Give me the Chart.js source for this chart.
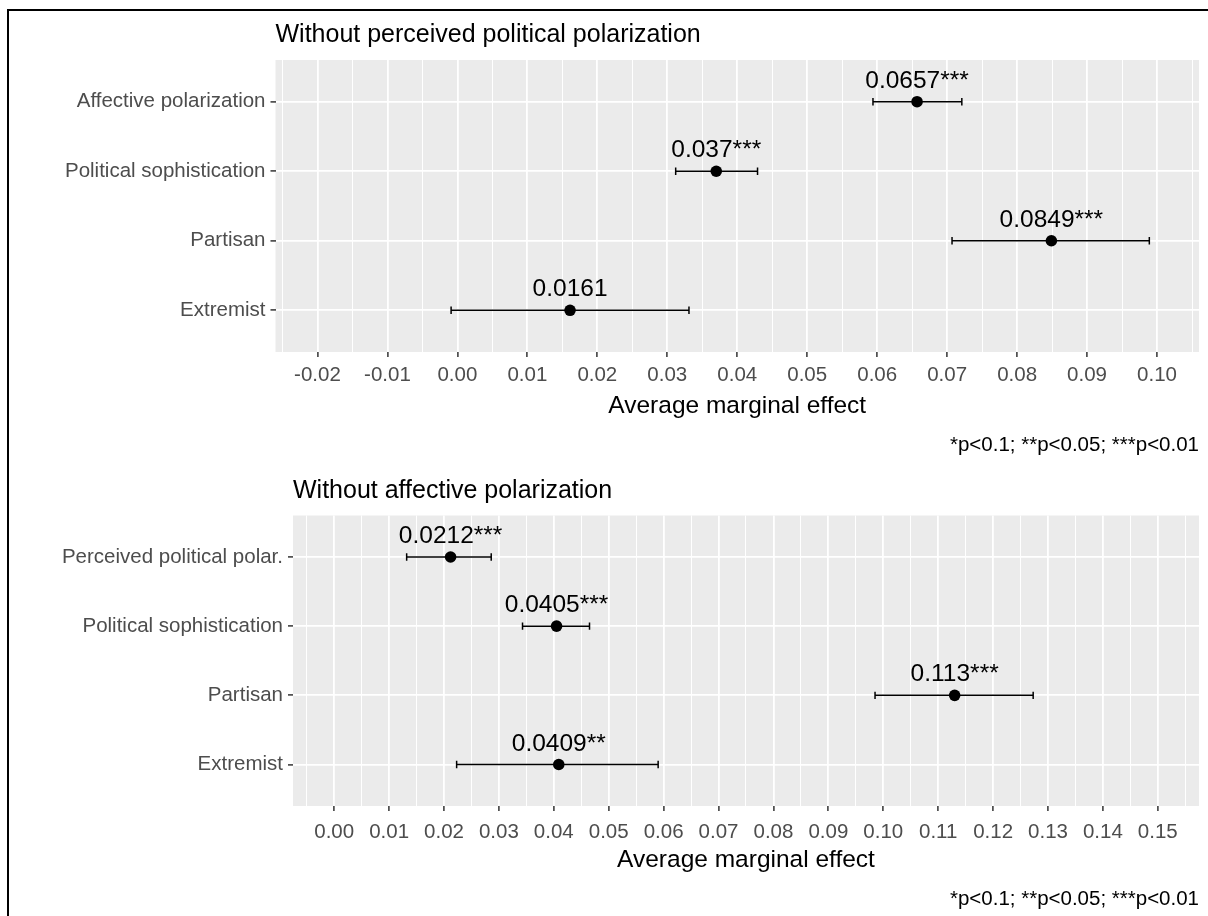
<!DOCTYPE html>
<html>
<head>
<meta charset="utf-8">
<script src="https://cdn.jsdelivr.net/npm/chart.js@4.4.1/dist/chart.umd.min.js"></script>
<style>
  html, body { margin: 0; padding: 0; background: #fff; overflow: hidden; }
  .panel { position: absolute; left: 0; width: 1208px; height: 458px; }
  #marco { position: absolute; left: 7px; top: 9px; width: 1199px; height: 905px;
           border-left: 2px solid #000; border-top: 2px solid #000; pointer-events: none; }
</style>
</head>
<body>
<div class="panel" style="top:0px"><canvas id="plot1" width="1208" height="458"></canvas></div>
<div class="panel" style="top:458px"><canvas id="plot2" width="1208" height="458"></canvas></div>
<div id="marco"></div>
<script>
// Panel superior
let categorias1 = ["Affective polarization", "Political sophistication", "Partisan", "Extremist"];
let estimados1 = [0.0657, 0.037, 0.0849, 0.0161];
let inferior1 = [0.0594, 0.0312, 0.0707, -0.0009];
let superior1 = [0.0721, 0.0429, 0.0989, 0.0331];
let estrellas1 = ["***", "***", "***", ""];
let ticks1 = [-0.02, -0.01, 0.0, 0.01, 0.02, 0.03, 0.04, 0.05, 0.06, 0.07, 0.08, 0.09, 0.10];

// Panel inferior
let categorias2 = ["Perceived political polar.", "Political sophistication", "Partisan", "Extremist"];
let estimados2 = [0.0212, 0.0405, 0.113, 0.0409];
let inferior2 = [0.0132, 0.0343, 0.0985, 0.0223];
let superior2 = [0.0286, 0.0465, 0.1273, 0.0590];
let estrellas2 = ["***", "***", "***", "**"];
let ticks2 = [0.0, 0.01, 0.02, 0.03, 0.04, 0.05, 0.06, 0.07, 0.08, 0.09, 0.10, 0.11, 0.12, 0.13, 0.14, 0.15];

let fuente = '"Liberation Sans", Arial, sans-serif';
Chart.defaults.font.family = fuente;

//Fondo gris del panel
let fondo = {
  id: "fondo",
  beforeDraw(chart) {
    let a = chart.chartArea;
    let ctx = chart.ctx;
    ctx.save();
    ctx.fillStyle = "#EBEBEB";
    ctx.fillRect(a.left, a.top, a.right - a.left, a.bottom - a.top);
    ctx.restore();
  },
};

//Etiquetas sobre los puntos, título y nota
let textos = {
  id: "textos",
  afterDatasetsDraw(chart, args, opts) {
    let ctx = chart.ctx;
    let a = chart.chartArea;
    let meta = chart.getDatasetMeta(chart.data.datasets.length - 1);
    ctx.save();
    ctx.fillStyle = "#000";
    ctx.font = "24.5px " + fuente;
    ctx.textAlign = "center";
    ctx.textBaseline = "alphabetic";
    meta.data.forEach((p, i) => ctx.fillText(opts.etiquetas[i], p.x, p.y - 14));

    ctx.font = "25px " + fuente;
    ctx.textAlign = "left";
    ctx.fillText(opts.titulo, a.left, a.top - 18);

    ctx.font = "20.5px " + fuente;
    ctx.textAlign = "right";
    ctx.fillText(opts.nota, a.right, a.bottom + 99);
    ctx.restore();
  },
};

let crearPanel = (id, d) => {
  let n = d.ticks.length;
  let paso = d.ticks[1] - d.ticks[0];
  let margen = (d.ticks[n - 1] - d.ticks[0]) * 0.05;

  //Ticks mayores y menores del eje x
  let valoresX = [];
  for (let k = -1; k <= 2 * (n - 1) + 1; k++) {
    let v = Math.round((d.ticks[0] + (k * paso) / 2) * 1e6) / 1e6;
    valoresX.push({ value: v, mayor: k % 2 === 0 });
  }

  let datasets = d.categorias.map((c, i) => ({
    type: "line",
    data: [
      { x: d.inferior[i], y: i + 1 },
      { x: d.superior[i], y: i + 1 },
    ],
    borderColor: "#000",
    borderWidth: 1.5,
    pointStyle: "line",
    pointRotation: 90,
    pointRadius: 3.7,
    pointBorderWidth: 1.5,
    pointBorderColor: "#000",
  }));
  datasets.push({
    type: "scatter",
    data: d.estimados.map((v, i) => ({ x: v, y: i + 1 })),
    pointRadius: 5.8,
    pointBackgroundColor: "#000",
    pointBorderColor: "#000",
    pointBorderWidth: 0,
  });

  let config = {
    type: "scatter",
    data: { datasets: datasets },
    options: {
      responsive: false,
      animation: false,
      events: [],
      layout: { autoPadding: false, padding: { top: d.arriba, right: 9, bottom: d.abajo, left: 0 } },
      plugins: {
        legend: { display: false },
        tooltip: { enabled: false },
        textos: {
          etiquetas: d.estimados.map((v, i) => String(v) + d.estrellas[i]),
          titulo: d.titulo,
          nota: "*p<0.1; **p<0.05; ***p<0.01",
        },
      },
      scales: {
        x: {
          type: "linear",
          min: d.ticks[0] - margen,
          max: d.ticks[n - 1] + margen,
          afterBuildTicks: (s) => { s.ticks = valoresX.map((t) => ({ ...t })); },
          afterFit: (s) => { s.height = 68.8; },
          border: { display: false },
          grid: {
            color: "#FFFFFF",
            lineWidth: (c) => (c.tick && c.tick.mayor ? 1.8 : 1.0),
            tickColor: (c) => (c.tick && c.tick.mayor ? "#333333" : "rgba(0,0,0,0)"),
            tickWidth: 1.5,
            tickLength: 5,
          },
          ticks: {
            autoSkip: false,
            maxRotation: 0,
            minRotation: 0,
            padding: d.rellenoX,
            color: "#4D4D4D",
            font: { size: 20.5 },
            callback: (v, i, t) => (t[i].mayor ? v.toFixed(2) : ""),
          },
          title: {
            display: true,
            text: "Average marginal effect",
            color: "#000",
            font: { size: 24.5 },
            padding: { top: 0, bottom: 0 },
          },
        },
        y: {
          type: "linear",
          reverse: true,
          min: 0.4,
          max: d.categorias.length + 0.6,
          afterBuildTicks: (s) => { s.ticks = d.categorias.map((c, i) => ({ value: i + 1, mayor: true })); },
          afterFit: (s) => { s.width = d.anchoY; },
          border: { display: false },
          grid: {
            color: "#FFFFFF",
            lineWidth: 1.8,
            tickColor: "#333333",
            tickWidth: 1.5,
            tickLength: 5,
          },
          ticks: {
            padding: 5,
            color: "#4D4D4D",
            font: { size: 20.5 },
            callback: (v) => d.categorias[Math.round(v) - 1],
          },
        },
      },
    },
    plugins: [fondo, textos],
  };

  return new Chart(document.getElementById(id), config);
};

crearPanel("plot1", {
  categorias: categorias1,
  estimados: estimados1,
  inferior: inferior1,
  superior: superior1,
  estrellas: estrellas1,
  ticks: ticks1,
  titulo: "Without perceived political polarization",
  anchoY: 275.5,
  arriba: 60,
  abajo: 37.2,
  rellenoX: 6,
});

crearPanel("plot2", {
  categorias: categorias2,
  estimados: estimados2,
  inferior: inferior2,
  superior: superior2,
  estrellas: estrellas2,
  ticks: ticks2,
  titulo: "Without affective polarization",
  anchoY: 293,
  arriba: 57.5,
  abajo: 41.2,
  rellenoX: 9,
});
</script>
</body>
</html>
